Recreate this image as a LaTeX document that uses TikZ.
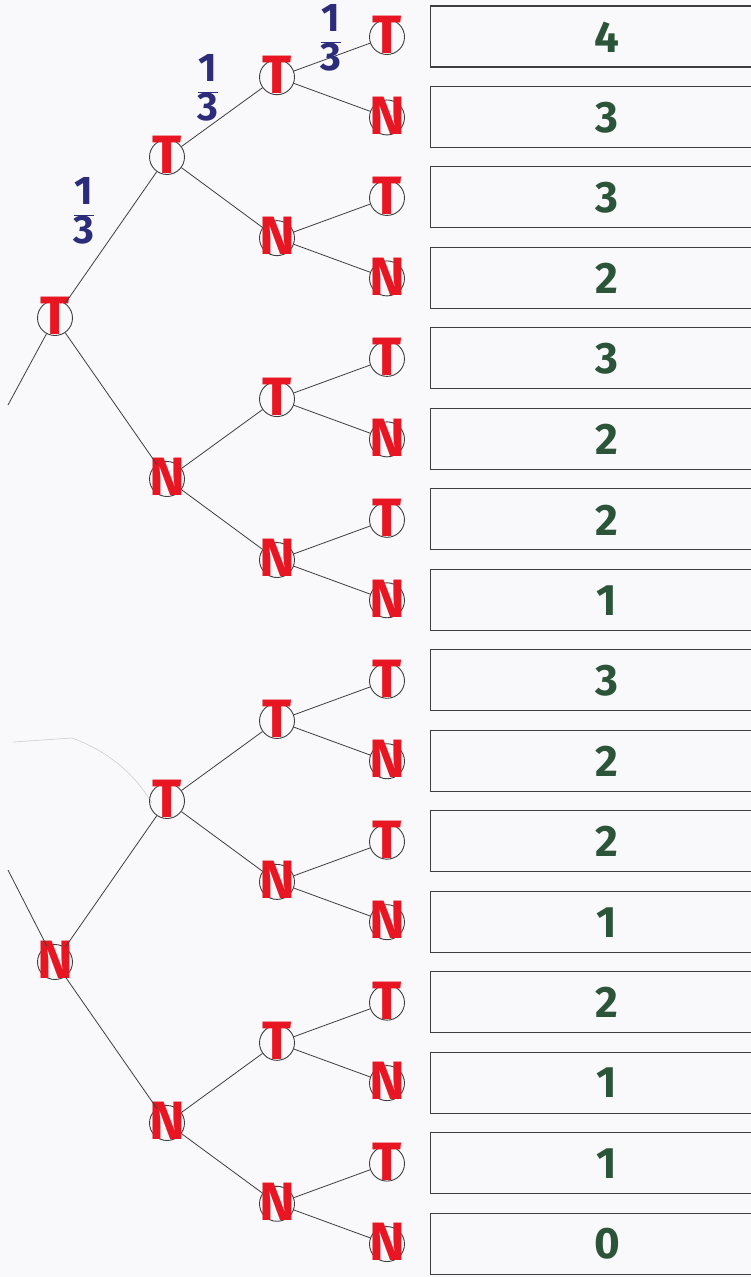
\documentclass[tikz,border=0pt]{standalone}
\usepackage{fontspec}
\setmainfont{Fira Sans}
\definecolor{tred}{RGB}{232,22,34}
\definecolor{tgreen}{RGB}{44,84,56}
\definecolor{tblue}{RGB}{44,44,122}
\definecolor{tline}{RGB}{62,62,62}
\definecolor{paper}{RGB}{249,249,251}
\newcommand\tnode[4]{%
  \node[tc] (#1) at (#2,#3) {};
  \node[tl] (#1-l) at (#1.center) {#4};}
\begin{document}
\begin{tikzpicture}[x=1pt,y=-1pt,
  tc/.style={circle, draw=tline, line width=0.9pt, minimum size=35pt, inner sep=0pt},
  tl/.style={text=tred, font=\fontsize{54}{54}\selectfont\bfseries, inner sep=0pt, yshift=2pt},
  edge/.style={draw=tline, line width=0.8pt},
  box/.style={draw=tline, line width=1.1pt, minimum width=330pt, minimum height=61pt, inner sep=0pt, anchor=west},
  num/.style={text=tgreen, font=\fontsize{44}{44}\selectfont\bfseries, inner sep=0pt},
  fr/.style={text=tblue, font=\fontsize{40}{40}\selectfont\bfseries, inner sep=0pt}]
\useasboundingbox (0,0) rectangle (751,1277);
\fill[paper] (0,0) rectangle (751,1277);
% faint pencil stroke
\draw[gray!35, line width=0.7pt] (13,742) -- (72,738) .. controls (110,752) and (135,775) .. (152,803);
% level 1
\tnode{a1}{55}{318}{T}
\tnode{a2}{55}{962}{N}
% level 2
\tnode{b1}{167}{157}{T}
\tnode{b2}{167}{479}{N}
\tnode{b3}{167}{801}{T}
\tnode{b4}{167}{1123}{N}
% level 3
\foreach \j/\L in {1/T,2/N,3/T,4/N,5/T,6/N,7/T,8/N}{
  \pgfmathsetmacro\yy{77.2+160.94*(\j-1)}
  \tnode{c\j}{277}{\yy}{\L}
}
% level 4 and boxes
\foreach \i/\L/\n in {1/T/4,2/N/3,3/T/3,4/N/2,5/T/3,6/N/2,7/T/2,8/N/1,9/T/3,10/N/2,11/T/2,12/N/1,13/T/2,14/N/1,15/T/1,16/N/0}{
  \pgfmathsetmacro\yy{37+80.47*(\i-1)}
  \tnode{d\i}{387}{\yy}{\L}
  \node[box] (box\i) at (430,\yy-0.5) {};
  \node[num] (n\i) at (607,\yy) {\n};
}
% connectors
\coordinate (r1) at (8,405);
\coordinate (r2) at (8,870);
\draw[edge] (r1) -- (a1);
\draw[edge] (r2) -- (a2);
\draw[edge] (a1) -- (b1);
\draw[edge] (a1) -- (b2);
\draw[edge] (a2) -- (b3);
\draw[edge] (a2) -- (b4);
\foreach \p/\x/\y in {b1/c1/c2,b2/c3/c4,b3/c5/c6,b4/c7/c8}{
  \draw[edge] (\p) -- (\x);
  \draw[edge] (\p) -- (\y);
}
\foreach \p/\x/\y in {c1/d1/d2,c2/d3/d4,c3/d5/d6,c4/d7/d8,c5/d9/d10,c6/d11/d12,c7/d13/d14,c8/d15/d16}{
  \draw[edge] (\p) -- (\x);
  \draw[edge] (\p) -- (\y);
}
% probabilities
\node[fr] (f1) at (84,211) {$\displaystyle\frac{\textbf{1}}{\textbf{3}}$};
\node[fr] (f2) at (208,88) {$\displaystyle\frac{\textbf{1}}{\textbf{3}}$};
\node[fr] (f3) at (331,38) {$\displaystyle\frac{\textbf{1}}{\textbf{3}}$};
\end{tikzpicture}
\end{document}
